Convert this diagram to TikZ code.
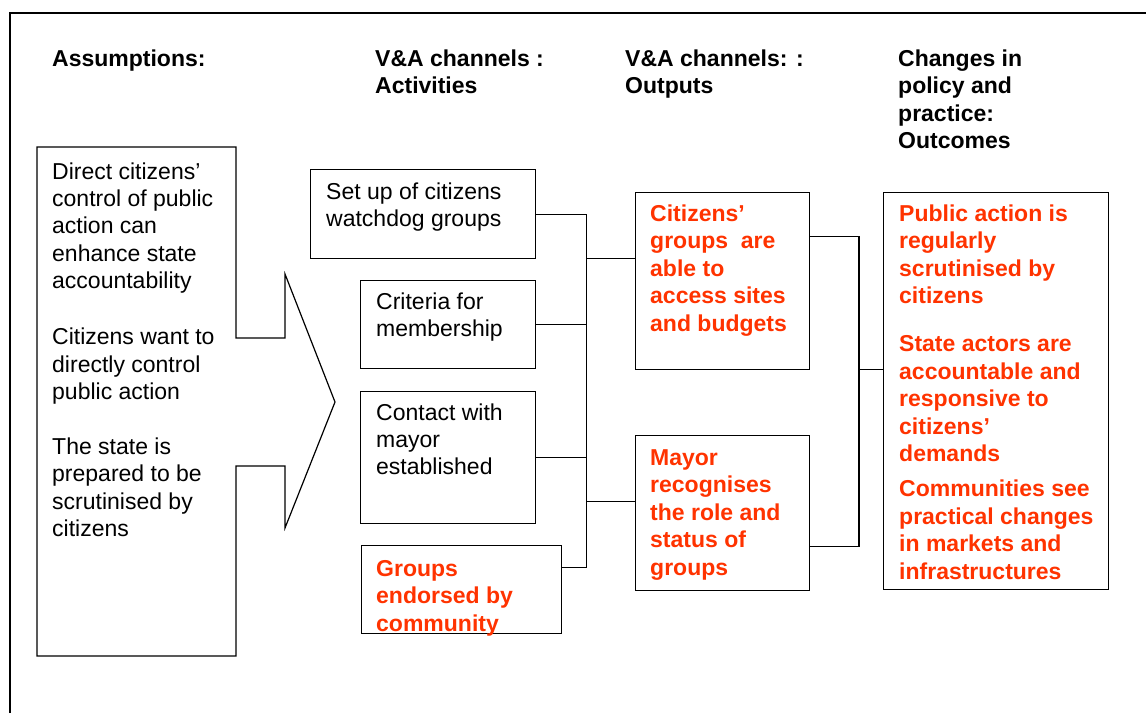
\documentclass[tikz,border=0pt]{standalone}
\usepackage{fontspec}
\setmainfont{Liberation Sans}
\usetikzlibrary{calc}
\definecolor{outred}{RGB}{255,51,0}
\newcommand{\lns}[1]{\begin{tabular}[t]{@{}l@{}}#1\end{tabular}}
\begin{document}
\begin{tikzpicture}[x=1pt,y=-1pt,
  txt/.style={anchor=base west,inner sep=0pt,font=\fontsize{23}{27.4}\selectfont},
  hdr/.style={txt,font=\fontsize{23}{27.6}\selectfont\bfseries},
  rtxt/.style={txt,font=\fontsize{23}{27.5}\selectfont\bfseries,text=outred},
  box/.style={draw,line width=1.2pt,anchor=north west,inner sep=0pt},
  conn/.style={line width=1.2pt}]
\useasboundingbox (0,0) rectangle (1146,713);
% outer frame
\coordinate (fbl) at (10,713);
\coordinate (ftl) at (10,13);
\coordinate (ftr) at (1146,13);
\draw[line width=1.8pt] (fbl) -- (ftl) -- (ftr);
% headers
\node[hdr] (h1) at (52,66) {Assumptions:};
\node[hdr] (h2) at (375,66) {\lns{V\&A channels :\\Activities}};
\node[hdr] (h3) at (625,66) {\lns{V\&A channels: :\\Outputs}};
\node[hdr] (h4) at (898,66) {\lns{Changes in\\policy and\\practice:\\Outcomes}};
% assumptions box with arrow
\draw[line width=1.2pt,line join=miter] (37,147) -- (236,147) -- (236,338) -- (285,338) -- (285,274) -- (335,402) -- (285,528) -- (285,466) -- (236,466) -- (236,656) -- (37,656) -- cycle;
\node[txt] (assump) at (52,179) {\lns{Direct citizens'\\control of public\\action can\\enhance state\\accountability\\[28.6pt]Citizens want to\\directly control\\public action\\[27.6pt]The state is\\prepared to be\\scrutinised by\\citizens}};
% activity boxes
\node[box,minimum width=225pt,minimum height=89pt] (setup) at (310,169) {};
\node[box,minimum width=175pt,minimum height=88pt] (crit) at (360,280) {};
\node[box,minimum width=175pt,minimum height=132pt] (cont) at (360,391) {};
\node[box,minimum width=200pt,minimum height=88pt] (groups) at (361,545) {};
% output boxes
\node[box,minimum width=174pt,minimum height=177pt] (cit) at (635,192) {};
\node[box,minimum width=174pt,minimum height=155pt] (mayor) at (635,435) {};
% outcome box
\node[box,minimum width=225pt,minimum height=397pt] (outc) at (883,192) {};
% texts
\node[txt] (tsetup) at (326,199) {\lns{Set up of citizens\\watchdog groups}};
\node[txt] (tcrit) at (376,309) {\lns{Criteria for\\membership}};
\node[txt] (tcont) at (376,420) {\lns{Contact with\\mayor\\established}};
\node[rtxt] (tgroups) at (376,576) {\lns{Groups\\endorsed by\\community}};
\node[rtxt] (tcit) at (650,221) {\lns{Citizens'\\groups~ are\\able to\\access sites\\and budgets}};
\node[rtxt] (tmayor) at (650,465) {\lns{Mayor\\recognises\\the role and\\status of\\groups}};
\node[rtxt] (toutc) at (899,221) {\lns{Public action is\\regularly\\scrutinised by\\citizens\\[20.5pt]State actors are\\accountable and\\responsive to\\citizens'\\demands\\[7.5pt]Communities see\\practical changes\\in markets and\\infrastructures}};
% connectors: activities to outputs
\coordinate (b1top) at ($(setup.east)+(50,0)$);
\coordinate (gE) at ($(groups.north east)!0.25!(groups.south east)$);
\coordinate (citW) at ($(cit.north west)!0.373!(cit.south west)$);
\coordinate (mayW) at ($(mayor.north west)!0.426!(mayor.south west)$);
\draw[conn] (setup.east) -- (b1top) -- (b1top |- gE) -- (gE);
\draw[conn] (crit.east) -- (crit.east -| b1top);
\draw[conn] (cont.east) -- (cont.east -| b1top);
\draw[conn] (citW -| b1top) -- (citW);
\draw[conn] (mayW -| b1top) -- (mayW);
% connectors: outputs to outcomes
\coordinate (citE) at ($(cit.north east)!0.249!(cit.south east)$);
\coordinate (mayE) at ($(mayor.north east)!0.716!(mayor.south east)$);
\coordinate (outW) at ($(outc.north west)!0.446!(outc.south west)$);
\coordinate (b2) at (859,0);
\draw[conn] (citE) -- (citE -| b2) -- (mayE -| b2) -- (mayE);
\draw[conn] (outW -| b2) -- (outW);
\end{tikzpicture}
\end{document}
